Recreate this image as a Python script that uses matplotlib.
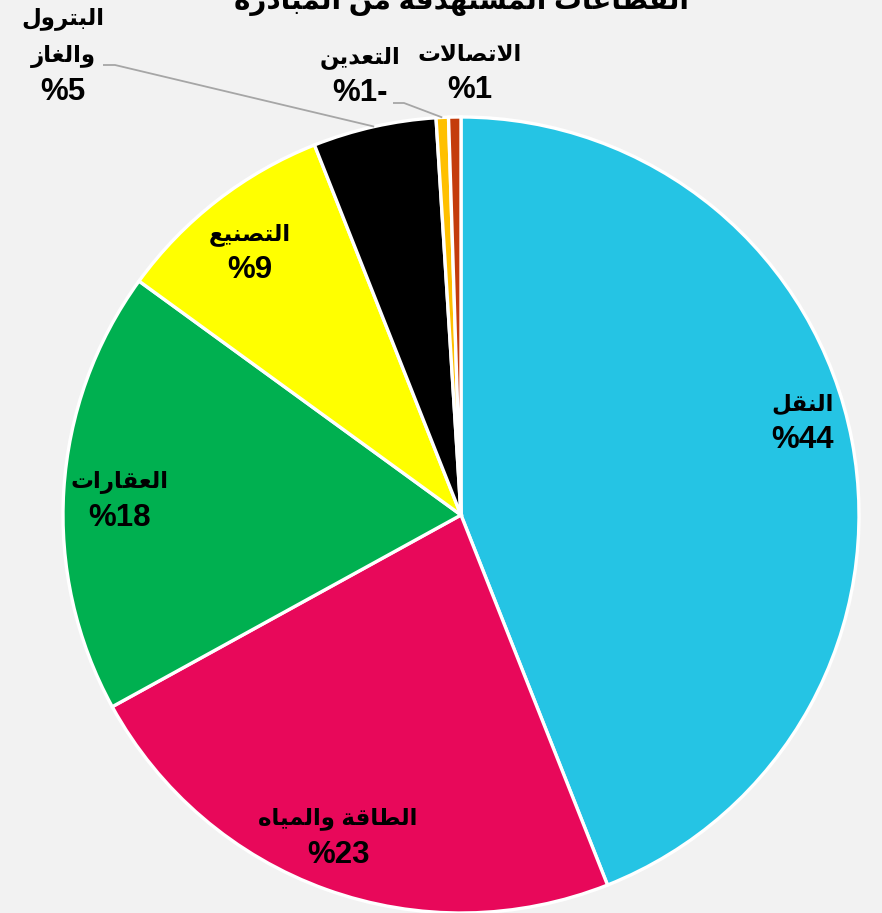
"""Pie chart of target sectors (Arabic labels)."""

import math
import unicodedata

import matplotlib
matplotlib.use("Agg")
import matplotlib.pyplot as plt
import numpy as np

title = "القطاعات المستهدفة من المبادرة"
sectors = ["النقل", "الطاقة والمياه", "العقارات", "التصنيع",
           "البترول\nوالغاز", "التعدين", "الاتصالات"]
shares = [44, 23, 18, 9, 5, -0.5, 0.5]
colors = ["#25C4E4", "#E8085A", "#00B050", "#FFFF00",
          "#000000", "#FFC000", "#C43C0C"]

RIGHT_ONLY = set("اأإآدذرزوؤة")
LAM_ALEF = {"ا": "ARABIC LIGATURE LAM WITH ALEF",
            "أ": "ARABIC LIGATURE LAM WITH ALEF WITH HAMZA ABOVE",
            "إ": "ARABIC LIGATURE LAM WITH ALEF WITH HAMZA BELOW",
            "آ": "ARABIC LIGATURE LAM WITH ALEF WITH MADDA ABOVE"}


def is_ar(c):
    return "\u0621" <= c <= "\u064A"


def shape_line(text):
    """Join Arabic letters into presentation forms and reverse to visual order."""
    out = []
    i, n = 0, len(text)
    while i < n:
        c = text[i]
        if not is_ar(c):
            out.append(c)
            i += 1
            continue
        prev = text[i - 1] if i > 0 else ""
        joins_prev = bool(prev) and is_ar(prev) and prev not in RIGHT_ONLY
        if c == "ل" and i + 1 < n and text[i + 1] in LAM_ALEF:
            form = " FINAL FORM" if joins_prev else " ISOLATED FORM"
            out.append(unicodedata.lookup(LAM_ALEF[text[i + 1]] + form))
            i += 2
            continue
        nxt = text[i + 1] if i + 1 < n else ""
        joins_next = c not in RIGHT_ONLY and bool(nxt) and is_ar(nxt)
        if joins_prev and joins_next:
            form = " MEDIAL FORM"
        elif joins_prev:
            form = " FINAL FORM"
        elif joins_next:
            form = " INITIAL FORM"
        else:
            form = " ISOLATED FORM"
        try:
            out.append(unicodedata.lookup(unicodedata.name(c) + form))
        except KeyError:
            out.append(c)
        i += 1
    return "".join(reversed(out))


def pct_label(v):
    # visual RTL order: percent sign on the left, minus on the right
    r = int(math.floor(abs(v) + 0.5))
    return "%" + str(r) + ("-" if v < 0 else "")


W, H = 882, 913
fig = plt.figure(figsize=(W / 100, H / 100), dpi=100, facecolor="#F2F2F2")
ax = fig.add_axes([0, 0, 1, 1])
ax.set_facecolor("#F2F2F2")

cx, cy, R = 461, H - 515, 398
wedges, _ = ax.pie(np.abs(shares), colors=colors, startangle=90,
                   counterclock=False, center=(cx, cy), radius=R,
                   wedgeprops=dict(edgecolor="white", linewidth=2.4))
ax.set_xlim(0, W)
ax.set_ylim(0, H)
ax.set_aspect("equal", adjustable="box")
ax.axis("off")

fam = ["Liberation Sans", "DejaVu Sans"]

# label anchor (x, y of the percent line) in pixels from the top-left corner
label_xy = [(803, 440), (338, 855), (120, 518), (250, 270),
            (63, 92), (360, 93), (470, 90)]
step = 38
for name, v, (lx, ly) in zip(sectors, shares, label_xy):
    ax.text(lx, H - ly, pct_label(v), ha="center", va="center",
            fontsize=22.5, fontweight="bold", family=fam)
    lines = name.split("\n")
    for k, line in enumerate(reversed(lines)):
        ax.text(lx, H - (ly - step * (k + 1)) - 2, shape_line(line),
                ha="center", va="center", fontsize=16.5,
                fontweight="bold", family=fam)

# leader lines for the two small outer labels (oil & gas, mining)
leaders = {4: [(103, 65), (115, 65)], 5: [(393, 103), (404, 103)]}
for idx, pts in leaders.items():
    w = wedges[idx]
    mid = math.radians((w.theta1 + w.theta2) / 2)
    ex, ey = cx + R * math.cos(mid), cy + R * math.sin(mid)
    xs = [p[0] for p in pts] + [ex]
    ys = [H - p[1] for p in pts] + [ey]
    ax.plot(xs, ys, color="#A6A6A6", lw=1.3, solid_capstyle="butt")

# title sits mostly above the visible area, as in the source image
ax.text(461, H - 9, shape_line(title), ha="center", va="baseline",
        fontsize=20, fontweight="bold", family=fam, clip_on=False)

fig.savefig("out.png", dpi=100, facecolor=fig.get_facecolor())
